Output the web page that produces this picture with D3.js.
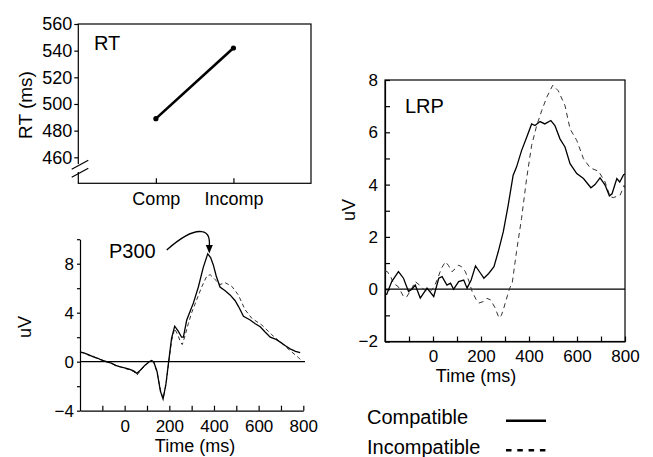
<!DOCTYPE html>
<html>
<head>
<meta charset="utf-8">
<script src="https://cdn.jsdelivr.net/npm/d3@7"></script>
<style>
  body { margin: 0; background: #fff; }
  svg { display: block; font-family: "Liberation Sans", Arial, sans-serif; }
  .axis path, .axis line { stroke: #000; stroke-width: 1.2; }
  .axis text { fill: #000; font-family: "Liberation Sans", Arial, sans-serif; }
</style>
</head>
<body>
<div id="chart-area"></div>
<script>
// RT panel
var rtConditions = ["Comp", "Incomp"];
var rtValues = [489, 542];
var rtTicks = [460, 480, 500, 520, 540, 560];

// P300 panel (time in ms, amplitude in uV)
var p300CompTime = [-200, -180, -160, -140, -120, -100, -80, -60, -40, -20, 0, 20, 40, 55, 70, 90, 110, 120, 130, 145, 160, 172, 185, 197, 210, 224, 240, 255, 263, 278, 295, 308, 330, 352, 372, 385, 397, 410, 427, 450, 472, 494, 510, 532, 562, 585, 607, 630, 652, 675, 697, 720, 741, 765, 786];
var p300CompUv = [0.8, 0.7, 0.55, 0.4, 0.28, 0.1, 0.0, -0.12, -0.3, -0.42, -0.5, -0.6, -0.75, -0.95, -0.7, -0.3, 0.0, 0.1, 0.0, -0.8, -2.4, -3.05, -1.8, 0.0, 1.9, 2.9, 2.5, 2.0, 2.0, 3.4, 4.2, 4.8, 6.1, 7.7, 8.8, 8.5, 7.9, 7.0, 6.1, 5.8, 5.45, 5.0, 4.5, 3.7, 3.4, 3.1, 2.85, 2.4, 2.0, 1.85, 1.6, 1.3, 1.05, 0.85, 0.75];
var p300IncompTime = [-200, -180, -160, -140, -120, -100, -80, -60, -40, -20, 0, 20, 40, 55, 70, 90, 110, 120, 130, 145, 160, 172, 185, 197, 210, 224, 240, 250, 258, 270, 285, 300, 315, 345, 368, 383, 405, 427, 450, 480, 509, 539, 569, 614, 659, 704, 741, 778, 790];
var p300IncompUv = [0.75, 0.72, 0.5, 0.45, 0.2, 0.15, -0.05, -0.1, -0.35, -0.4, -0.55, -0.65, -0.8, -1.1, -0.75, -0.35, 0.0, 0.05, -0.05, -0.85, -2.3, -3.0, -1.9, -0.1, 1.7, 2.7, 2.1, 1.6, 1.4, 2.1, 3.1, 4.0, 4.7, 6.1, 7.0, 7.1, 6.7, 6.3, 6.45, 6.15, 5.45, 4.25, 3.55, 3.0, 2.2, 1.5, 0.9, 0.35, 0.1];
var p300YTicks = [-4, -2, 0, 2, 4, 6, 8, 10];
var p300YLabels = [-4, 0, 4, 8];

// LRP panel
var lrpCompTime = [-200, -193, -172, -144, -123, -102, -88, -74, -53, -25, 3, 24, 38, 58, 73, 86, 107, 128, 142, 159, 177, 198, 212, 232, 254, 272, 293, 313, 334, 348, 369, 390, 411, 425, 446, 466, 491, 508, 529, 550, 571, 599, 627, 658, 675, 696, 717, 735, 746, 766, 778, 794, 800];
var lrpCompUv = [-0.2, -0.2, 0.29, 0.67, 0.42, -0.09, 0.0, 0.16, -0.34, 0.04, -0.28, 0.42, 0.48, 0.16, 0.23, 0.0, 0.29, 0.35, 0.04, 0.35, 0.89, 0.61, 0.42, 0.6, 0.86, 1.44, 2.2, 3.2, 4.36, 4.67, 5.3, 5.8, 6.32, 6.26, 6.41, 6.32, 6.45, 6.26, 5.75, 5.44, 4.8, 4.42, 4.23, 3.88, 4.0, 4.26, 3.98, 3.57, 3.65, 4.23, 4.1, 4.38, 4.4];
var lrpIncompTime = [-200, -190, -175, -165, -145, -123, -110, -90, -74, -55, -39, -20, -11, 5, 17, 35, 52, 65, 79, 95, 107, 120, 135, 150, 163, 180, 191, 200, 212, 225, 240, 258, 275, 285, 295, 310, 320, 330, 348, 369, 390, 411, 432, 453, 474, 499, 522, 550, 571, 599, 627, 655, 690, 717, 738, 751, 780, 797, 800];
var lrpIncompUv = [0.7, 0.67, 0.45, 0.23, 0.1, -0.28, -0.3, 0.0, 0.29, 0.15, 0.0, -0.1, -0.09, 0.1, 0.35, 0.8, 1.05, 0.9, 0.67, 0.8, 0.92, 0.85, 0.67, 0.3, -0.09, -0.4, -0.53, -0.5, -0.47, -0.35, -0.41, -0.7, -1.1, -1.0, -0.72, -0.25, 0.05, 0.23, 1.44, 2.71, 4.23, 5.5, 6.26, 6.83, 7.34, 7.8, 7.59, 7.02, 6.13, 5.69, 4.99, 4.64, 4.51, 4.1, 3.54, 3.5, 3.6, 3.98, 3.85];
var lrpYTicks = [-2, -1, 0, 1, 2, 3, 4, 5, 6, 7, 8];
var lrpYLabels = [-2, 0, 2, 4, 6, 8];

var timeTicks = [-100, 0, 100, 200, 300, 400, 500, 600, 700, 800];
var timeLabels = [0, 200, 400, 600, 800];
var legendNames = ["Compatible", "Incompatible"];

var svg = d3.select("#chart-area")
  .append("svg")
  .attr("width", 653)
  .attr("height", 457);

function zip(ts, vs) {
  return ts.map((t, i) => ({ t: t, v: vs[i] }));
}

function labelOnly(list) {
  return d => list.indexOf(d) >= 0 ? (d < 0 ? "\u2212" + Math.abs(d) : d) : "";
}

// ---------- RT panel ----------
var rtX = d3.scalePoint().domain(rtConditions).range([78.3, 311]).padding(1);
var rtY = d3.scaleLinear().domain([440.5, 560]).range([183.3, 24]);

var rt = svg.append("g");
rt.append("rect")
  .attr("x", 78.3).attr("y", 24)
  .attr("width", 311 - 78.3).attr("height", 183.3 - 24)
  .attr("fill", "none").attr("stroke", "#000").attr("stroke-width", 1.2);

rt.append("g").attr("class", "axis")
  .attr("transform", "translate(78.3,0)")
  .call(d3.axisLeft(rtY).tickValues(rtTicks).tickSize(4).tickSizeOuter(0).tickPadding(2))
  .call(g => g.select(".domain").remove())
  .selectAll("text").style("font-size", "18px");

rt.append("g").attr("class", "axis")
  .attr("transform", "translate(0,183.3)")
  .call(d3.axisBottom(rtX).tickSize(-5).tickSizeOuter(0).tickPadding(9))
  .call(g => g.select(".domain").remove())
  .selectAll("text").style("font-size", "18px");

// axis break
rt.append("rect").attr("x", 75).attr("y", 164).attr("width", 7).attr("height", 8).attr("fill", "#fff");
[0, 8].forEach(off => {
  rt.append("line")
    .attr("x1", 71.7).attr("y1", 169.3 + off)
    .attr("x2", 88.3).attr("y2", 160.3 + off)
    .attr("stroke", "#000").attr("stroke-width", 1.2);
});

var rtData = rtConditions.map((c, i) => ({ c: c, v: rtValues[i] }));
rt.append("path")
  .datum(rtData)
  .attr("fill", "none").attr("stroke", "#000").attr("stroke-width", 2.6)
  .attr("d", d3.line().x(d => rtX(d.c)).y(d => rtY(d.v)));
rt.selectAll("circle").data(rtData).enter().append("circle")
  .attr("cx", d => rtX(d.c)).attr("cy", d => rtY(d.v)).attr("r", 2.6).attr("fill", "#000");

rt.append("text").attr("x", 94).attr("y", 50).style("font-size", "20px").text("RT");
rt.append("text")
  .attr("transform", "translate(32,105) rotate(-90)")
  .attr("text-anchor", "middle").style("font-size", "19px").text("RT (ms)");

// ---------- P300 panel ----------
var pX = d3.scaleLinear().domain([-200, 800]).range([80, 303.3]);
var pY = d3.scaleLinear().domain([-4, 10]).range([410.7, 239.2]);
var p3 = svg.append("g");

p3.append("g").attr("class", "axis")
  .attr("transform", "translate(80,0)")
  .call(d3.axisLeft(pY).tickValues(p300YTicks).tickFormat(labelOnly(p300YLabels)).tickSize(3).tickSizeOuter(0).tickPadding(3))
  .selectAll("text").style("font-size", "17px");

p3.append("g").attr("class", "axis")
  .attr("transform", "translate(0,410.7)")
  .call(d3.axisBottom(pX).tickValues(timeTicks).tickFormat(labelOnly(timeLabels)).tickSize(-5).tickSizeOuter(0).tickPadding(9))
  .selectAll("text").style("font-size", "17px");

p3.append("line")
  .attr("x1", pX(-200)).attr("x2", 305)
  .attr("y1", pY(0)).attr("y2", pY(0))
  .attr("stroke", "#000").attr("stroke-width", 1.2);

var line = function (xs, ys) {
  return d3.line().x(d => xs(d.t)).y(d => ys(d.v));
};

p3.append("path").datum(zip(p300IncompTime, p300IncompUv))
  .attr("fill", "none").attr("stroke", "#333").attr("stroke-width", 1)
  .attr("stroke-dasharray", "4,3")
  .attr("d", line(pX, pY));
p3.append("path").datum(zip(p300CompTime, p300CompUv))
  .attr("fill", "none").attr("stroke", "#000").attr("stroke-width", 1.3)
  .attr("d", line(pX, pY));

p3.append("text").attr("x", 109).attr("y", 258).style("font-size", "20px").text("P300");
p3.append("path")
  .attr("d", "M166.7,250 C178,240 192,230 202,231.7 C208,232.5 210,238 209.3,246")
  .attr("fill", "none").attr("stroke", "#000").attr("stroke-width", 1.3);
p3.append("path")
  .attr("d", "M205.8,245 L212.8,245 L209.3,253.5 Z")
  .attr("fill", "#000");

p3.append("text")
  .attr("transform", "translate(31,327) rotate(-90)")
  .attr("text-anchor", "middle").style("font-size", "18px").text("uV");
p3.append("text")
  .attr("x", 195).attr("y", 452)
  .attr("text-anchor", "middle").style("font-size", "18px").text("Time (ms)");

// ---------- LRP panel ----------
var lX = d3.scaleLinear().domain([-200, 800]).range([385, 625]);
var lY = d3.scaleLinear().domain([-2, 8]).range([341.5, 80]);
var lrp = svg.append("g");

lrp.append("defs").append("clipPath").attr("id", "lrp-clip")
  .append("rect").attr("x", 385).attr("y", 80).attr("width", 240).attr("height", 261.5);

lrp.append("g").attr("class", "axis")
  .attr("transform", "translate(385,0)")
  .call(d3.axisLeft(lY).tickValues(lrpYTicks).tickFormat(labelOnly(lrpYLabels)).tickSize(-5).tickSizeOuter(0).tickPadding(7))
  .selectAll("text").style("font-size", "17px");

lrp.append("g").attr("class", "axis")
  .attr("transform", "translate(0,341.5)")
  .call(d3.axisBottom(lX).tickValues(timeTicks).tickFormat(labelOnly(timeLabels)).tickSize(-5).tickSizeOuter(0).tickPadding(8))
  .selectAll("text").style("font-size", "17px");

lrp.append("rect")
  .attr("x", 385).attr("y", 80).attr("width", 240).attr("height", 261.5)
  .attr("fill", "none").attr("stroke", "#000").attr("stroke-width", 1.2);

lrp.append("line")
  .attr("x1", 385).attr("x2", 625)
  .attr("y1", lY(0)).attr("y2", lY(0))
  .attr("stroke", "#000").attr("stroke-width", 1.2);

var curves = lrp.append("g").attr("clip-path", "url(#lrp-clip)");
curves.append("path").datum(zip(lrpIncompTime, lrpIncompUv))
  .attr("fill", "none").attr("stroke", "#333").attr("stroke-width", 1)
  .attr("stroke-dasharray", "5,4")
  .attr("d", line(lX, lY));
curves.append("path").datum(zip(lrpCompTime, lrpCompUv))
  .attr("fill", "none").attr("stroke", "#000").attr("stroke-width", 1.3)
  .attr("d", line(lX, lY));

lrp.append("text").attr("x", 405).attr("y", 113).style("font-size", "20px").text("LRP");
lrp.append("text")
  .attr("transform", "translate(355,210) rotate(-90)")
  .attr("text-anchor", "middle").style("font-size", "18px").text("uV");
lrp.append("text")
  .attr("x", 476).attr("y", 382)
  .attr("text-anchor", "middle").style("font-size", "18px").text("Time (ms)");

// ---------- legend ----------
var legend = svg.append("g");
legendNames.forEach((name, i) => {
  var y = 424 + i * 29.5;
  legend.append("text").attr("x", 367).attr("y", y).style("font-size", "20px").text(name);
  legend.append("line")
    .attr("x1", 506).attr("x2", 546)
    .attr("y1", y - 3.3).attr("y2", y - 3.3)
    .attr("stroke", "#000").attr("stroke-width", 2.5)
    .attr("stroke-dasharray", i === 0 ? null : "5.5,5.8");
});
</script>
</body>
</html>
